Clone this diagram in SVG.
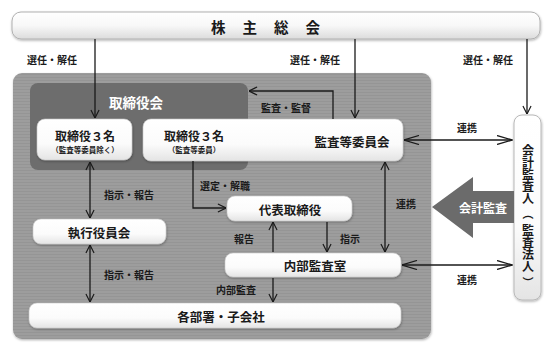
<svg xmlns="http://www.w3.org/2000/svg" width="550" height="353" viewBox="0 0 550 353">
<style>
text{font-family:"Noto Sans CJK JP","Noto Sans CJK SC",sans-serif;font-weight:700;fill:#1a1a1a;text-anchor:middle;dominant-baseline:central}
.lbl{font-size:10px}
.nd{font-size:12.5px}
.sm{font-size:7.5px}
.wt{fill:#ffffff}
.vt{font-size:12px;writing-mode:vertical-rl;text-orientation:upright;dominant-baseline:auto}
.pr{font-size:11px}
.box{fill:url(#wg);stroke:#c8c8c8;stroke-width:0.6;filter:url(#sh)}
.ln{fill:none;stroke:#1a1a1a;stroke-width:1.3}
</style>
<defs>
<linearGradient id="wg" x1="0" y1="0" x2="0" y2="1">
<stop offset="0" stop-color="#ffffff"/><stop offset="0.6" stop-color="#fbfbfb"/><stop offset="1" stop-color="#e4e4e4"/>
</linearGradient>
<linearGradient id="tg" x1="0" y1="0" x2="0" y2="1">
<stop offset="0" stop-color="#ffffff"/><stop offset="0.5" stop-color="#f8f8f8"/><stop offset="1" stop-color="#dcdcdc"/>
</linearGradient>
<pattern id="st" width="4" height="3" patternUnits="userSpaceOnUse">
<rect width="4" height="3" fill="#9d9d9d"/><rect y="2" width="4" height="1" fill="#959595"/>
</pattern>
<filter id="sh" x="-10%" y="-20%" width="120%" height="150%">
<feDropShadow dx="0.5" dy="1.2" stdDeviation="1" flood-color="#000" flood-opacity="0.3"/>
</filter>
<marker id="a" viewBox="0 0 10 10" refX="9.5" refY="5" markerWidth="9" markerHeight="10" markerUnits="userSpaceOnUse" orient="auto-start-reverse">
<path d="M0.5,0.5 L9.5,5 L0.5,9.5" fill="none" stroke="#1a1a1a" stroke-width="1.3"/>
</marker>
<marker id="b" viewBox="0 0 16 10" refX="15.5" refY="5" markerWidth="16" markerHeight="10" markerUnits="userSpaceOnUse" orient="auto-start-reverse">
<path d="M0.5,0.5 L15.5,5 L0.5,9.5" fill="none" stroke="#1a1a1a" stroke-width="1.3"/>
</marker>
</defs>
<rect width="550" height="353" fill="#ffffff"/>

<g id="panel">
<rect x="13" y="73" width="418" height="266" rx="9" fill="url(#st)" filter="url(#sh)"/>
</g>
<g id="board">
<rect x="30" y="83" width="218" height="87" rx="8" fill="#6d6d6d"/>
<text class="wt" x="136" y="102" style="font-size:13.5px">取締役会</text>
</g>

<g id="shareholders">
<rect x="12" y="12" width="528" height="27" rx="9" fill="url(#tg)" stroke="#b0b0b0" stroke-width="1" filter="url(#sh)"/>
<text x="274" y="26" style="font-size:14.5px;letter-spacing:17px">株主総会</text>
</g>

<g id="directors">
<rect class="box" x="37" y="119" width="95" height="41" rx="8"/>
<text x="85" y="135" style="font-size:12px">取締役３名</text>
<text class="sm" x="85" y="149">（監査等委員除く）</text>
</g>
<g id="audit-committee">
<rect class="box" x="143" y="119" width="260" height="42" rx="8"/>
<text x="194" y="135" style="font-size:12px">取締役３名</text>
<text class="sm" x="194" y="149">（監査等委員）</text>
<text class="nd" x="352" y="141">監査等委員会</text>
</g>
<g id="exec">
<rect class="box" x="33" y="219" width="133" height="25" rx="8"/>
<text class="nd" x="99" y="232">執行役員会</text>
</g>
<g id="rep">
<rect class="box" x="227" y="196" width="125" height="25" rx="8"/>
<text class="nd" x="290" y="209">代表取締役</text>
</g>
<g id="internal">
<rect class="box" x="225" y="253" width="176" height="24" rx="8"/>
<text class="nd" x="315" y="265">内部監査室</text>
</g>
<g id="depts">
<rect class="box" x="29" y="303" width="372" height="25" rx="8"/>
<text class="nd" x="221" y="316">各部署・子会社</text>
</g>
<g id="auditor">
<rect x="514" y="115" width="27" height="185" rx="8" fill="url(#wg)" stroke="#b8b8b8" stroke-width="1" filter="url(#sh)"/>
<text class="vt" x="528" y="174">会計監査人</text>
<text class="pr" x="528" y="213">︵</text>
<text class="vt" x="528" y="248">監査法人</text>
<text class="pr" x="528" y="282">︶</text>
</g>

<g id="connectors">
<path class="ln" d="M95,39 V118" marker-end="url(#a)"/>
<path class="ln" d="M355,39 V118" marker-end="url(#a)"/>
<path class="ln" d="M527,39 V114" marker-end="url(#a)"/>
<path class="ln" d="M333,119 V91 H249" marker-end="url(#a)"/>
<path class="ln" d="M404,140 H512" marker-start="url(#b)" marker-end="url(#b)"/>
<path class="ln" d="M90,162 V218" marker-start="url(#a)" marker-end="url(#a)"/>
<path class="ln" d="M90,245 V302" marker-start="url(#a)" marker-end="url(#a)"/>
<path class="ln" d="M193,161 V208 H226" marker-end="url(#a)"/>
<path class="ln" d="M273,252 V222" marker-end="url(#a)"/>
<path class="ln" d="M327,222 V252" marker-end="url(#a)"/>
<path class="ln" d="M273,278 V302" marker-end="url(#a)"/>
<path class="ln" d="M385,162 V252" marker-start="url(#a)" marker-end="url(#a)"/>
<path class="ln" d="M402,265 H512" marker-start="url(#b)" marker-end="url(#b)"/>
<polygon points="432,207 473,177 473,191 514,191 514,223 473,223 473,238" fill="#6b6b6b"/>
<text class="wt" x="483" y="207" style="font-size:12px">会計監査</text>
</g>

<g id="labels">
<text class="lbl" x="52" y="59">選任・解任</text>
<text class="lbl" x="315" y="59">選任・解任</text>
<text class="lbl" x="488" y="59">選任・解任</text>
<text class="lbl" x="286" y="107">監査・監督</text>
<text class="lbl" x="467" y="127">連携</text>
<text class="lbl" x="129" y="194">指示・報告</text>
<text class="lbl" x="129" y="274">指示・報告</text>
<text class="lbl" x="225" y="185">選定・解職</text>
<text class="lbl" x="244" y="238">報告</text>
<text class="lbl" x="350" y="238">指示</text>
<text class="lbl" x="236" y="289">内部監査</text>
<text class="lbl" x="406" y="203">連携</text>
<text class="lbl" x="467" y="279">連携</text>
</g>
</svg>
